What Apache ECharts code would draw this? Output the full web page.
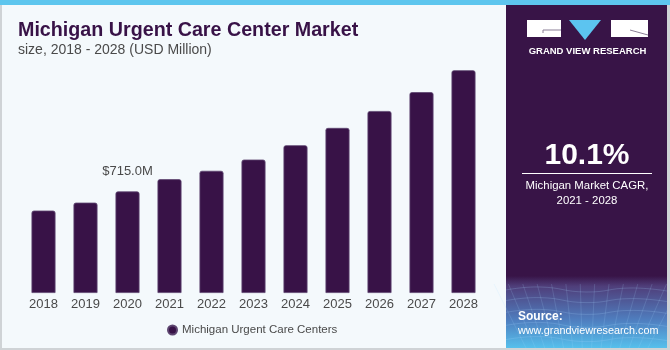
<!DOCTYPE html>
<html>
<head>
<meta charset="utf-8">
<title>Michigan Urgent Care Center Market</title>
<script src="https://cdn.jsdelivr.net/npm/echarts@6/dist/echarts.min.js"></script>
<style>
	html, body {
		margin: 0;
		padding: 0;
		background: #ffffff;
	}
	#chart {
		width: 670px;
		height: 350px;
	}
</style>
</head>
<body>
<div id="chart"></div>
<script>
	// data (USD Million)
	const years = ["2018", "2019", "2020", "2021", "2022", "2023", "2024", "2025", "2026", "2027", "2028"];
	const marketSize = [580, 636, 715, 801, 860, 939, 1040, 1162, 1281, 1414, 1568];
	const seriesName = "Michigan Urgent Care Centers";
	const labelYear = "2020";
	const cagrText = "10.1%";
	const cagrCaption = ["Michigan Market CAGR,", "2021 - 2028"];

	const purple = "#381247";
	const txtGray = "#4a4a4a";
	const font = "'Liberation Sans', Arial, sans-serif";

	// grid lines for the bottom-right panel texture
	function meshLines() {
		const out = [];
		for (let i = 0; i < 6; i++) {
			const y = 290 + i * 10 + i * i * 0.6;
			out.push({
				type: "polyline",
				silent: true,
				shape: { points: [[506, y], [540, y - 3], [586, y + 2], [630, y - 2], [667, y + 1]], smooth: 0.5 },
				style: { stroke: "rgba(170,215,255,0.2)", lineWidth: 1, fill: null }
			});
		}
		for (let i = 0; i < 14; i++) {
			const x = 506 + i * 12.5;
			out.push({
				type: "line",
				silent: true,
				shape: { x1: x + (x - 586) * 0.15, y1: 284, x2: x - (x - 586) * 0.25, y2: 348 },
				style: { stroke: "rgba(170,215,255,0.16)", lineWidth: 1 }
			});
		}
		return out;
	}

	const chart = echarts.init(document.getElementById("chart"), null, { renderer: "canvas" });

	const option = {
		backgroundColor: "#f4f9fc",
		animation: false,
		textStyle: { fontFamily: font },
		title: [{
			text: "Michigan Urgent Care Center Market",
			subtext: "size, 2018 - 2028 (USD Million)",
			left: 18,
			top: 21,
			padding: 0,
			itemGap: 2,
			textStyle: { color: purple, fontSize: 19.7, fontWeight: "bold", fontFamily: font },
			subtextStyle: { color: txtGray, fontSize: 14, fontFamily: font }
		}],
		legend: {
			data: [seriesName],
			left: 167,
			top: 324,
			padding: 0,
			icon: "circle",
			itemWidth: 9,
			itemHeight: 9,
			itemGap: 5,
			textStyle: { color: txtGray, fontSize: 11.5, fontFamily: font }
		},
		grid: {
			left: 22.5,
			right: 185.5,
			top: 60,
			bottom: 57,
			containLabel: false
		},
		xAxis: {
			type: "category",
			data: years,
			axisLine: { show: false },
			axisTick: { show: false },
			axisLabel: { color: txtGray, fontSize: 13, margin: 5, fontFamily: font }
		},
		yAxis: {
			type: "value",
			min: 0,
			max: 1640,
			show: false,
			splitLine: { show: false }
		},
		series: [{
			name: seriesName,
			type: "bar",
			barWidth: 24,
			data: marketSize.map((v, i) => ({
				value: v,
				label: {
					show: years[i] === labelYear,
					position: "top",
					distance: 13,
					formatter: (p) => "$" + p.value.toFixed(1) + "M",
					color: txtGray,
					fontSize: 13,
					fontFamily: font
				}
			})),
			itemStyle: {
				color: purple,
				borderColor: "#5d4570",
				borderWidth: 0.8,
				borderRadius: [2, 2, 0, 0]
			}
		}],
		graphic: {
			elements: [
				// outer frame
				{ type: "rect", z: -10, silent: true, shape: { x: 0, y: 0, width: 670, height: 350 }, style: { fill: "#cfd3d6" } },
				{ type: "rect", z: -9, silent: true, shape: { x: 2, y: 0, width: 665, height: 348 }, style: { fill: "#f4f9fc" } },
				{ type: "rect", z: -8, silent: true, shape: { x: 0, y: 0, width: 670, height: 5 }, style: { fill: "#5ec6ee" } },
				// right panel
				{ type: "rect", z: -8, silent: true, shape: { x: 506, y: 5, width: 161, height: 343 },
					style: {
						fill: new echarts.graphic.LinearGradient(0, 0, 0, 1, [
							{ offset: 0, color: "#381447" },
							{ offset: 0.79, color: "#381447" },
							{ offset: 0.82, color: "#4f3e7a" },
							{ offset: 0.92, color: "#4f7fc0" },
							{ offset: 1, color: "#56c0ec" }
						])
					}
				},
				...meshLines(),
				// logo
				{ type: "rect", silent: true, shape: { x: 527, y: 20, width: 34, height: 17 }, style: { fill: "#ffffff" } },
				{ type: "polyline", silent: true, shape: { points: [[543, 33], [543, 30], [561, 30]] }, style: { stroke: "#8a7f96", lineWidth: 1, fill: null } },
				{ type: "polygon", silent: true, shape: { points: [[569, 20], [601, 20], [585, 40]] }, style: { fill: "#5cc4f0" } },
				{ type: "rect", silent: true, shape: { x: 611, y: 20, width: 37, height: 17 }, style: { fill: "#ffffff" } },
				{ type: "line", silent: true, shape: { x1: 630, y1: 30, x2: 648, y2: 35 }, style: { stroke: "#8a7f96", lineWidth: 1 } },
				{ type: "text", silent: true, x: 587.5, y: 51,
					style: { text: "GRAND VIEW RESEARCH", fill: "#ffffff", font: "bold 9.5px " + font, textAlign: "center", textVerticalAlign: "middle" } },
				// CAGR block
				{ type: "text", silent: true, x: 587, y: 156,
					style: { text: cagrText, fill: "#ffffff", font: "bold 30px " + font, textAlign: "center", textVerticalAlign: "middle" } },
				{ type: "line", silent: true, shape: { x1: 522, y1: 173.5, x2: 652, y2: 173.5 }, style: { stroke: "#ffffff", lineWidth: 1 } },
				{ type: "text", silent: true, x: 587, y: 186,
					style: { text: cagrCaption[0], fill: "#ffffff", font: "11.4px " + font, textAlign: "center", textVerticalAlign: "middle" } },
				{ type: "text", silent: true, x: 587, y: 201,
					style: { text: cagrCaption[1], fill: "#ffffff", font: "11.4px " + font, textAlign: "center", textVerticalAlign: "middle" } },
				// source
				{ type: "text", silent: true, x: 518, y: 317,
					style: { text: "Source:", fill: "#ffffff", font: "bold 12px " + font, textAlign: "left", textVerticalAlign: "middle" } },
				{ type: "text", silent: true, x: 518, y: 331,
					style: { text: "www.grandviewresearch.com", fill: "#ffffff", font: "10.8px " + font, textAlign: "left", textVerticalAlign: "middle" } }
			]
		}
	};

	chart.setOption(option);
</script>
</body>
</html>
